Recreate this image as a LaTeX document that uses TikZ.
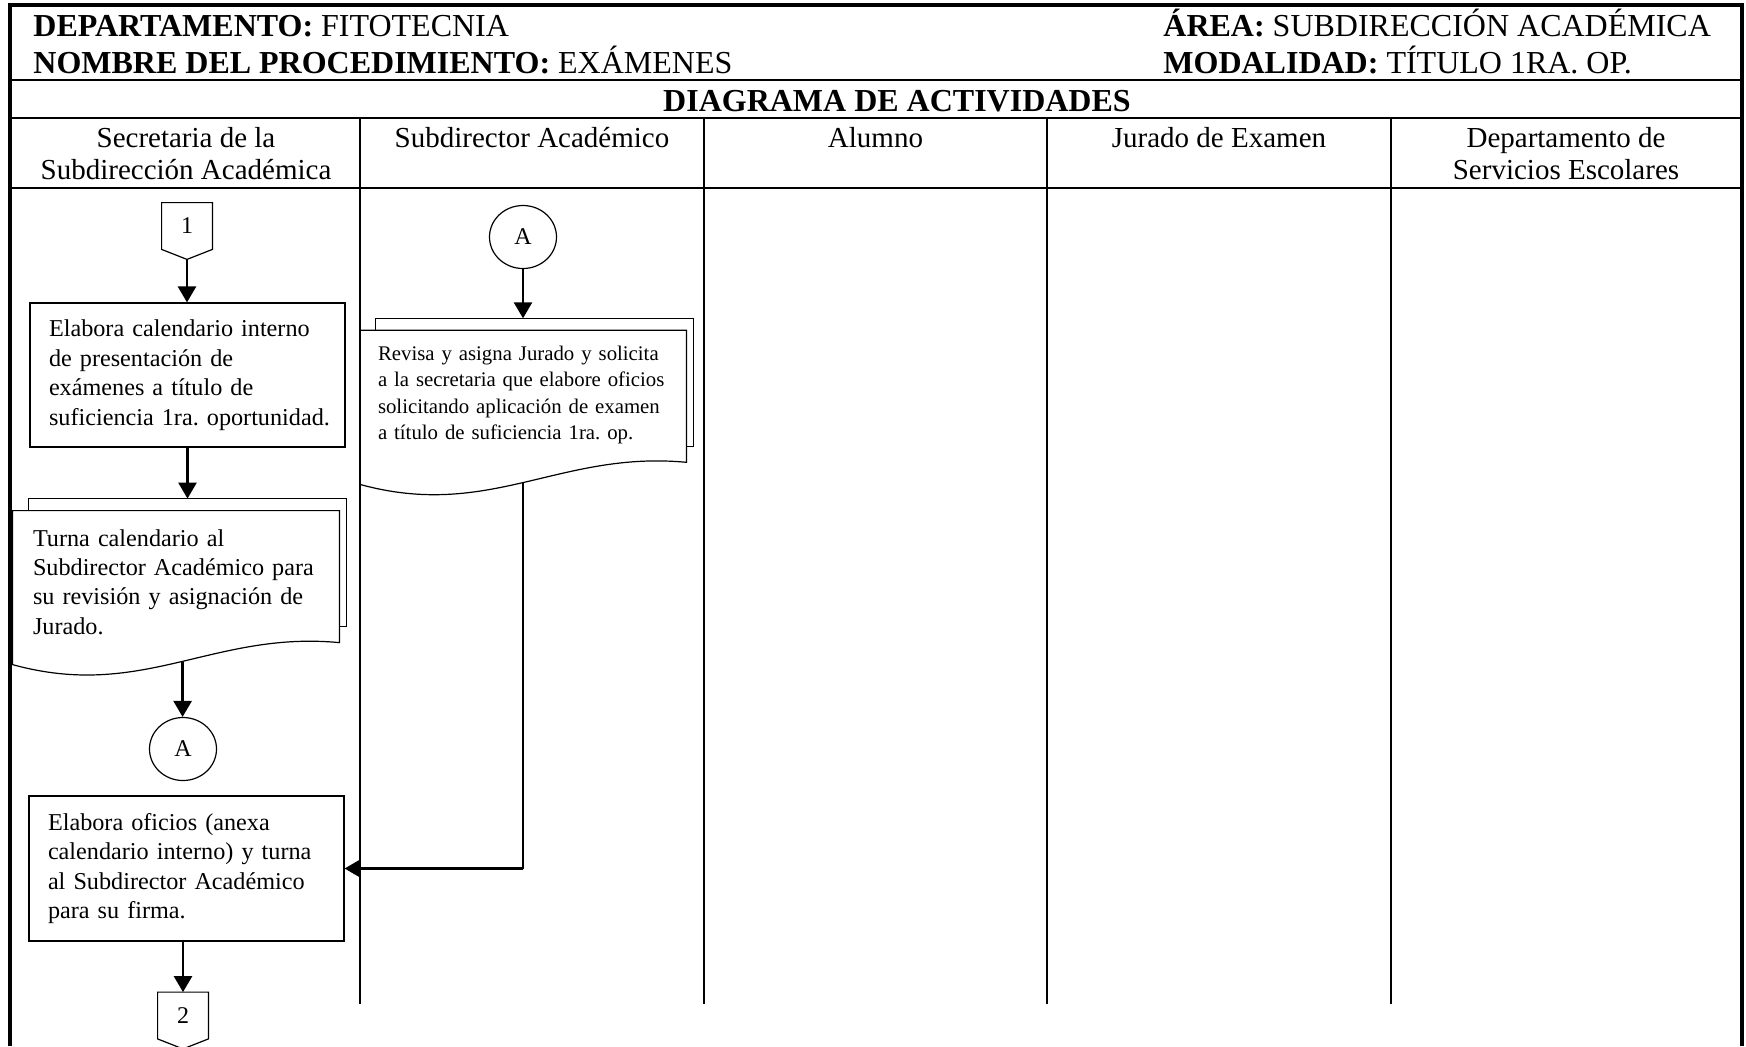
\documentclass[tikz,border=0pt]{standalone}
\usepackage{fontspec}
\setmainfont{Liberation Serif}
\usepackage{tikz}
\usetikzlibrary{shapes.geometric, arrows.meta, positioning, calc}
\frenchspacing
\tikzset{
  box/.style={rectangle, draw=black, line width=0.6pt, text width=138.5pt,
              inner xsep=9.5pt, align=left, minimum height=#1,
              font=\fontsize{12.1}{14.75}\selectfont},
  box/.default=72pt,
  doc/.style={rectangle, inner xsep=10pt, inner ysep=0pt, text width=143pt,
              align=left, minimum height=#1, font=\fontsize{12.1}{14.65}\selectfont},
  doc/.default=71pt,
  conn/.style={ellipse, draw=black, line width=0.6pt, minimum width=33.5pt,
               minimum height=31.5pt, inner sep=0pt, font=\fontsize{12}{14}\selectfont},
  offpage/.style={rectangle, minimum width=25pt, minimum height=23pt, inner sep=0pt,
                  font=\fontsize{12}{14}\selectfont},
  shapeline/.style={line width=0.6pt},
  arrow/.style={-{Triangle[width=9pt,length=8pt]}, line width=1.3pt},
  flowline/.style={line width=0.6pt},
  gridline/.style={line width=1.3pt},
  frameline/.style={line width=2pt},
  headtext/.style={anchor=base west, inner sep=0pt, font=\fontsize{16}{18}\selectfont},
  lanehead/.style={anchor=north, inner sep=0pt, align=center,
                   font=\fontsize{14.5}{15.8}\selectfont},
}
% hoja de documento multiple alrededor de un nodo doc
\newcommand{\docsheet}[1]{%
  \draw[shapeline] ($(#1.north west)+(16,0)$) -- ++(0,-12)
    -| ($(#1.north east)+(7,116)$) -- ($(#1.north east)+(0,116)$);
  \draw[shapeline] (#1.north west) -- (#1.north east) -- ($(#1.north east)+(0,132)$)
    .. controls ($(#1.north west)+(200,120)$) and ($(#1.north west)+(130,190)$)
    .. ($(#1.north west)+(0,154)$) -- cycle;}
% conector fuera de pagina
\newcommand{\offpagesheet}[1]{%
  \draw[shapeline] (#1.north west) -- (#1.north east) -- (#1.south east)
    -- ($(#1.south)+(0,10)$) -- (#1.south west) -- cycle;}

\begin{document}
\begin{tikzpicture}[x=0.5pt, y=-0.5pt, font=\fontsize{12.1}{14.75}\selectfont]
\useasboundingbox (0,0) rectangle (1746,1046);

% ── marco y rejilla ──────────────────────────────────────────────
\draw[frameline] (10,1046) -- (10,5) -- (1742,5) -- (1742,1046);
\draw[gridline] (10,80) -- (1742,80);
\draw[gridline] (10,118) -- (1742,118);
\draw[gridline] (10,188) -- (1742,188);
\foreach \x in {360,704,1047,1391}
  \draw[gridline] (\x,118) -- (\x,1004);

% ── encabezado ───────────────────────────────────────────────────
\node[headtext] (dep) at (33,36) {\textbf{DEPARTAMENTO:} FITOTECNIA};
\node[headtext] (nom) at (33,73) {\textbf{NOMBRE DEL PROCEDIMIENTO:} EXÁMENES};
\node[headtext] (area) at (1163,36) {\textbf{ÁREA:} SUBDIRECCIÓN ACADÉMICA};
\node[headtext] (moda) at (1163,73) {\textbf{MODALIDAD:} TÍTULO 1RA. OP.};
\node[headtext, anchor=base] (diag) at (897,111) {\textbf{DIAGRAMA DE ACTIVIDADES}};

% ── carriles ─────────────────────────────────────────────────────
\node[lanehead] (l1) at (186,127) {Secretaria de la\\Subdirección Académica};
\node[lanehead] (l2) at (532,127) {Subdirector Académico};
\node[lanehead] (l3) at (875.5,127) {Alumno};
\node[lanehead] (l4) at (1219,127) {Jurado de Examen};
\node[lanehead] (l5) at (1566,127) {Departamento de\\Servicios Escolares};

% ── Secretaria ───────────────────────────────────────────────────
\node[offpage] (p1) at (187,226) {1};
\offpagesheet{p1}
\coordinate (p1tip) at ($(p1.south)+(0,10)$);

\node[box] (b1) at (187.5,375)
  {Elabora calendario interno\\de presentación de\\exámenes a título de\\\mbox{suficiencia 1ra. oportunidad.}};

\node[doc] (d1) at (176,582)
  {Turna calendario al\\Subdirector Académico para\\su revisión y asignación de\\Jurado.};
\docsheet{d1}
\coordinate (d1back) at ($(d1.north)+(0,-12)$);
\coordinate (d1out) at ($(d1.north west)+(170,151)$);

\node[conn] (a1) at (183,749) {A};

\node[box=72.5pt] (b3) at (186.5,868.5)
  {Elabora oficios (anexa\\calendario interno) y turna\\al Subdirector Académico\\para su firma.};

\node[offpage] (p2) at (183,1015.5) {2};
\offpagesheet{p2}

% ── Subdirector ──────────────────────────────────────────────────
\node[conn] (a2) at (523,237) {A};

\node[doc=64.3pt, text width=145pt, inner xsep=9pt,
      font=\fontsize{10.4}{13.2}\selectfont] (d2) at (523,395)
  {Revisa y asigna Jurado y solicita\\\mbox{a la secretaria que elabore oficios}\\solicitando aplicación de examen\\a título de suficiencia 1ra. op.};
\docsheet{d2}
\coordinate (d2back) at ($(d2.north)+(0,-12)$);
\coordinate (d2out) at ($(d2.north)+(0,152)$);
\coordinate (turn) at (d2out |- b3.east);

% ── flechas ──────────────────────────────────────────────────────
\draw[arrow] (p1tip) -- (p1tip |- b1.north);
\draw[arrow] (b1.south) -- (b1.south |- d1back);
\draw[arrow] (d1out) -- (d1out |- a1.north);
\draw[arrow] (b3.south -| p2.north) -- (p2.north);
\draw[arrow] (a2.south) -- (d2back);
\draw[flowline] (d2out) -- (turn);
\draw[arrow, line width=1.1pt] (turn) -- (b3.east);

\end{tikzpicture}
\end{document}
